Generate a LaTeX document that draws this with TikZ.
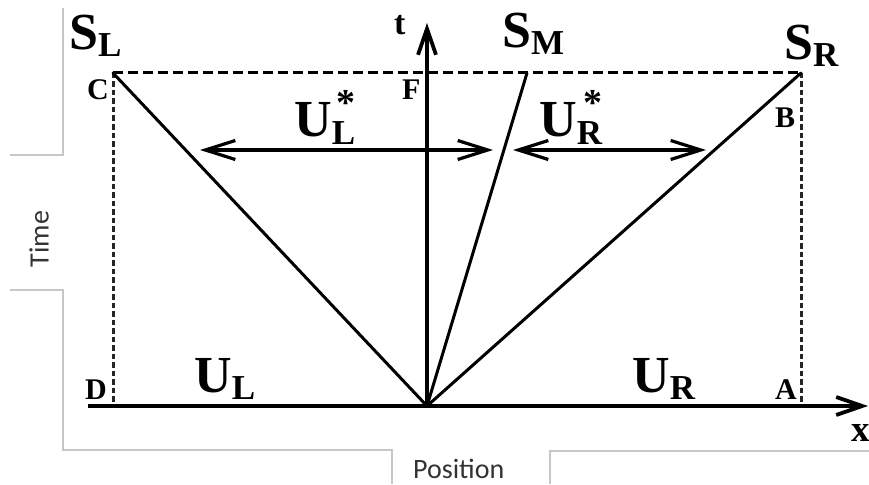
\documentclass[tikz,border=0pt]{standalone}
\usepackage{fontspec}
\setmainfont{Liberation Serif}
\newfontfamily\carl{Carlito}
\usetikzlibrary{arrows.meta}
\newcommand{\mainlet}[1]{{\fontsize{52}{52}\selectfont\bfseries #1}}
\newcommand{\sublet}[1]{\raisebox{-7pt}{\fontsize{35}{35}\selectfont\bfseries #1}}
\newcommand{\starsub}[1]{\raisebox{-8pt}{\fontsize{35}{35}\selectfont\bfseries #1\llap{\raisebox{29pt}{\fontsize{38}{38}\selectfont *}}}}
\begin{document}
\begin{tikzpicture}[x=1pt,y=-1pt,
  frame/.style={draw=black!22, line width=1.4pt},
  solidline/.style={line width=3pt, line cap=round},
  hdash/.style={line width=3pt, dash pattern=on 10pt off 5pt},
  vdash/.style={line width=3pt, draw=black!85, dash pattern=on 5.5pt off 3pt},
  axisline/.style={line width=3.8pt},
  axtip/.style={-{Straight Barb[length=26pt,width=18pt]}},
  dbl/.style={line width=3.2pt, {Straight Barb[length=30pt,width=19pt]}-{Straight Barb[length=30pt,width=19pt]}},
  lab/.style={inner sep=0pt, anchor=base west},
  pt/.style={font=\fontsize{30}{30}\selectfont\bfseries},
  side/.style={font=\carl\fontsize{28}{28}\selectfont, text=black!80, inner sep=0pt},
  ]
\useasboundingbox (0,0) rectangle (869,484);
% grey frame
\draw[frame] (63,8) -- (63,155) -- (10,155);
\draw[frame] (10,290) -- (63,290) -- (63,450) -- (392,450) -- (392,484);
\draw[frame] (550,484) -- (550,451) -- (869,451);
% key points
\coordinate (O) at (427,406);
\coordinate (C) at (113,73);
\coordinate (SMtop) at (527,73);
\coordinate (B) at (801,73);
\coordinate (D) at (113,406);
\coordinate (A) at (801,406);
\coordinate (xs) at (88,406);
\coordinate (xe) at (868,406);
\coordinate (te) at (427,23);
\coordinate (ULa) at (200,150);
\coordinate (ULb) at (493,150);
\coordinate (URa) at (513,150);
\coordinate (URb) at (706,150);
% dashed box
\draw[hdash] (C) -- (B);
\draw[vdash] (C) -- (D);
\draw[vdash] (B) -- (A);
% waves
\draw[solidline] (O) -- (C);
\draw[solidline] (O) -- (SMtop);
\draw[solidline] (O) -- (B);
% axes
\draw[axisline, axtip] (xs) -- (xe);
\draw[axisline, axtip] (O) -- (te);
% double arrows
\draw[dbl] (ULa) -- (ULb);
\draw[dbl] (URa) -- (URb);
% labels
\node[lab] (SL) at (69,50) {\mainlet{S}\sublet{L}};
\node[lab] (SM) at (502,48) {\mainlet{S}\sublet{M}};
\node[lab] (SR) at (784,60) {\mainlet{S}\sublet{R}};
\node[lab] (tl) at (394,35) {{\fontsize{34}{34}\selectfont\bfseries t}};
\node[lab] (xl) at (851,441) {{\fontsize{37}{37}\selectfont\bfseries x}};
\node[lab, pt] (Cl) at (87,100) {C};
\node[lab, pt] (Fl) at (402,100) {F};
\node[lab, pt] (Bl) at (775,128) {B};
\node[lab, pt] (Dl) at (85,399) {D};
\node[lab, pt] (Al) at (775,399) {A};
\node[lab] (UL) at (194,392) {\mainlet{U}\sublet{L}};
\node[lab] (UR) at (632,392) {\mainlet{U}\sublet{R}};
\node[lab] (ULs) at (294,136) {\mainlet{U}\starsub{L}};
\node[lab] (URs) at (539,136) {\mainlet{U}\starsub{R}};
\node[side, rotate=90] (time) at (39,239) {Time};
\node[side, anchor=base west] (pos) at (413,478) {Position};
\end{tikzpicture}
\end{document}
